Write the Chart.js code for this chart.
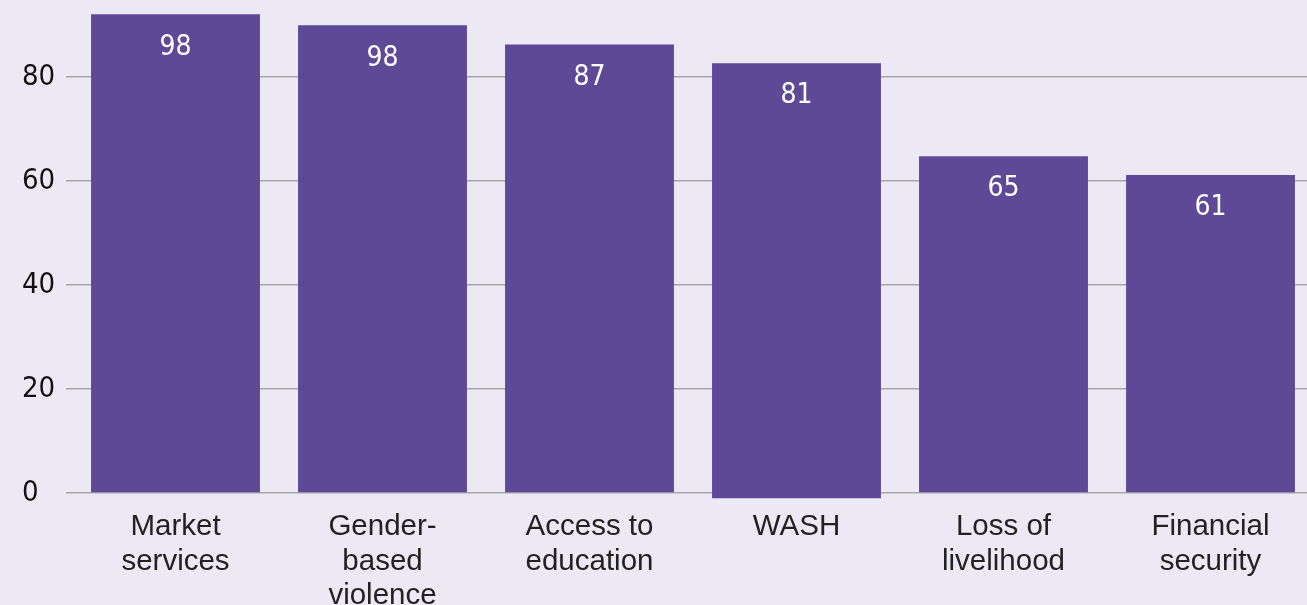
<!DOCTYPE html>
<html>
<head>
<meta charset="utf-8">
<script src="https://cdn.jsdelivr.net/npm/chart.js@4.4.0/dist/chart.umd.min.js"></script>
<style>
  html, body { margin: 0; padding: 0; background: #ECE9F4; overflow: hidden; }
  #wrap { position: relative; width: 1314px; height: 605px; }
</style>
</head>
<body>
<div id="wrap"><canvas id="c" width="1314" height="605"></canvas></div>
<script>
const categories = [["Market", "services"], ["Gender-", "based", "violence"], ["Access to", "education"], ["WASH"], ["Loss of", "livelihood"], ["Financial", "security"]];
const barTops = [92.1, 90.0, 86.3, 82.7, 64.8, 61.2];
const barBases = [0, 0, 0, -1, 0, 0];
const valueLabels = ["98", "98", "87", "81", "65", "61"];
const yTicks = [0, 20, 40, 60, 80];

const BAR = '#5E4996';
const numFont = "'Liberation Sans Narrow', 'DejaVu Sans Condensed', 'Roboto Condensed', sans-serif";

const labelPlugin = {
  id: 'valueLabels',
  afterDatasetsDraw(chart) {
    const ctx = chart.ctx;
    const meta = chart.getDatasetMeta(0);
    ctx.save();
    ctx.fillStyle = '#ffffff';
    ctx.font = '28px ' + numFont;
    ctx.textAlign = 'center';
    ctx.textBaseline = 'middle';
    meta.data.forEach((bar, i) => {
      ctx.fillText(valueLabels[i], bar.x, bar.y + 33);
    });
    ctx.restore();
  }
};

const chart = new Chart(document.getElementById('c'), {
  type: 'bar',
  data: {
    labels: categories,
    datasets: [{
      data: barTops.map((v, i) => [barBases[i], v]),
      backgroundColor: BAR,
      borderWidth: 0,
      barPercentage: 0.816,
      categoryPercentage: 1.0,
      clip: false
    }]
  },
  options: {
    responsive: false,
    animation: false,
    layout: { padding: { top: -67, left: 22, right: 0, bottom: 0 } },
    plugins: { legend: { display: false }, tooltip: { enabled: false } },
    scales: {
      x: {
        grid: { display: false },
        border: { display: false },
        ticks: {
          color: '#222222',
          font: { family: "'Liberation Sans', Arial, sans-serif", size: 29.5, lineHeight: 1.17 },
          padding: 9,
          maxRotation: 0,
          autoSkip: false
        },
        afterFit(scale) { scale.height = 112; }
      },
      y: {
        min: 0,
        max: 90.74,
        border: { display: false },
        grid: { color: '#A8A6AC', lineWidth: 1.5, drawTicks: true, tickLength: 6 },
        ticks: {
          stepSize: 20,
          color: '#111111',
          font: { family: numFont, size: 29 },
          crossAlign: 'far',
          padding: 4
        },
        afterBuildTicks(scale) {
          scale.ticks = yTicks.map(v => ({ value: v }));
        },
        afterFit(scale) { scale.width = 50; }
      }
    }
  },
  plugins: [labelPlugin]
});
</script>
</body>
</html>
